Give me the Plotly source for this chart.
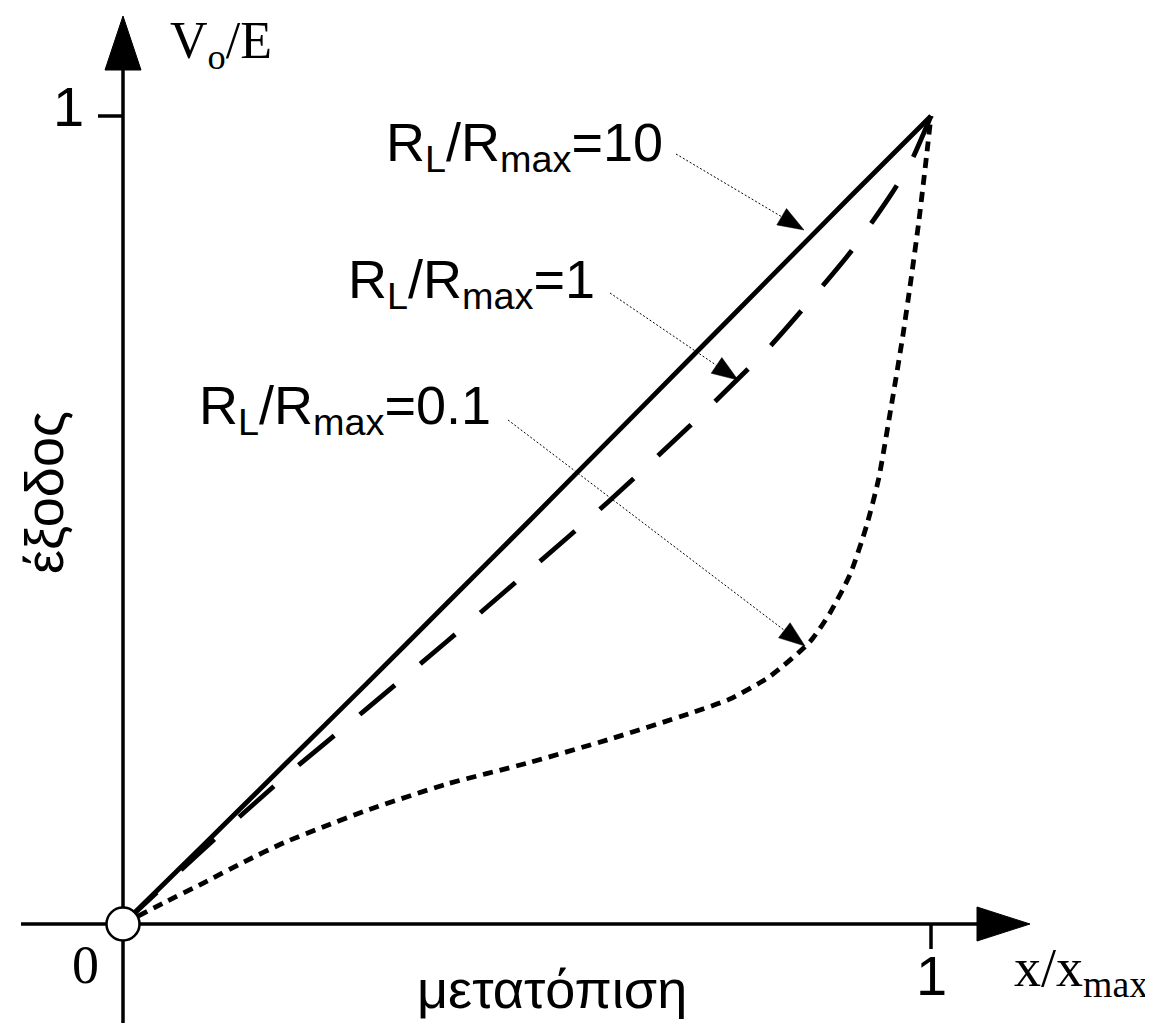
import math
import plotly.graph_objects as go

# ---------------- data ----------------
x_rl10 = [0, 0.1, 0.2, 0.3, 0.4, 0.5, 0.6, 0.7, 0.8, 0.9, 1.0]
y_rl10 = [0, 0.098, 0.197, 0.296, 0.396, 0.496, 0.597, 0.698, 0.799, 0.900, 1.0]

x_rl1 = [0, 0.1, 0.2, 0.3, 0.4, 0.5, 0.6, 0.7, 0.8, 0.9, 0.95, 0.975, 1.0]
y_rl1 = [0, 0.093, 0.182, 0.265, 0.349, 0.435, 0.522, 0.615, 0.714, 0.831, 0.902, 0.943, 1.0]

x_rl01 = [0, 0.05, 0.1, 0.15, 0.2, 0.25, 0.3, 0.4, 0.5, 0.6, 0.7, 0.75, 0.8, 0.85,
          0.875, 0.9, 0.92, 0.935, 0.95, 0.965, 0.975, 0.985, 0.995, 1.0]
y_rl01 = [0, 0.026, 0.051, 0.077, 0.101, 0.121, 0.140, 0.173, 0.199, 0.228, 0.260, 0.278,
          0.306, 0.349, 0.385, 0.433, 0.492, 0.550, 0.636, 0.727, 0.796, 0.870, 0.955, 1.0]

series_labels = ["R<sub>L</sub>/R<sub>max</sub>=10",
                 "R<sub>L</sub>/R<sub>max</sub>=1",
                 "R<sub>L</sub>/R<sub>max</sub>=0.1"]
tick_labels = ["0", "1"]
x_title = "x/x<sub>max</sub>"
y_title = "V<sub>o</sub>/E"
x_caption = "μετατόπιση"
y_caption = "έξοδος"

# ---------------- layout geometry (pixels) ----------------
W, H = 1153, 1023
X0, Y0, S = 115, 916, 808      # origin pixel and pixels per unit


def X(px):
    return (px - X0) / S


def Y(py):
    return (Y0 - py) / S


fig = go.Figure()

BLACK = "#000000"

# curves
fig.add_trace(go.Scatter(x=x_rl10, y=y_rl10, mode="lines",
                         line=dict(color=BLACK, width=4.8, shape="spline", smoothing=0.6)))
fig.add_trace(go.Scatter(x=x_rl1, y=y_rl1, mode="lines",
                         line=dict(color=BLACK, width=4.8, dash="46px,33px",
                                   shape="spline", smoothing=0.6)))
fig.add_trace(go.Scatter(x=x_rl01, y=y_rl01, mode="lines",
                         line=dict(color=BLACK, width=4.8, dash="10px,7px",
                                   shape="spline", smoothing=0.6)))

# label arrows: (shaft start px, tip px)
ARROWS = [
    ((668, 146), (796, 222)),
    ((602, 285), (730, 372)),
    ((500, 412), (797, 638)),
]
HEAD_LEN, HEAD_HALF = 26, 9.5
for (sx, sy), (tx, ty) in ARROWS:
    dx, dy = tx - sx, ty - sy
    L = math.hypot(dx, dy)
    ux, uy = dx / L, dy / L
    bx, by = tx - ux * HEAD_LEN, ty - uy * HEAD_LEN
    fig.add_trace(go.Scatter(x=[X(sx), X(bx)], y=[Y(sy), Y(by)], mode="lines",
                             line=dict(color=BLACK, width=1, dash="2px,2px")))
    p1 = (bx - uy * HEAD_HALF, by + ux * HEAD_HALF)
    p2 = (bx + uy * HEAD_HALF, by - ux * HEAD_HALF)
    fig.add_trace(go.Scatter(x=[X(tx), X(p1[0]), X(p2[0]), X(tx)],
                             y=[Y(ty), Y(p1[1]), Y(p2[1]), Y(ty)],
                             mode="lines", fill="toself", fillcolor=BLACK,
                             line=dict(color=BLACK, width=0.5)))

# origin circle
fig.add_trace(go.Scatter(x=[x_rl10[0]], y=[y_rl10[0]], mode="markers",
                         marker=dict(size=33, color="white",
                                     line=dict(color=BLACK, width=2.5))))

# axes lines, ticks and arrowheads (drawn below the traces)
shapes = [
    dict(type="line", x0=X(13), y0=0, x1=X(972), y1=0, line=dict(color=BLACK, width=3.5)),
    dict(type="line", x0=0, y0=Y(1018), x1=0, y1=Y(58), line=dict(color=BLACK, width=3.5)),
    dict(type="line", x0=X(90), y0=1, x1=0, y1=1, line=dict(color=BLACK, width=3.5)),
    dict(type="line", x0=1, y0=0, x1=1, y1=Y(941), line=dict(color=BLACK, width=3.5)),
    dict(type="path",
         path=f"M {X(1022)},{0} L {X(969)},{Y(899)} L {X(969)},{Y(933)} Z",
         fillcolor=BLACK, line=dict(color=BLACK, width=1)),
    dict(type="path",
         path=f"M {0},{Y(8)} L {X(97)},{Y(62)} L {X(133)},{Y(62)} Z",
         fillcolor=BLACK, line=dict(color=BLACK, width=1)),
]
for s in shapes:
    s["layer"] = "below"

SANS = "Liberation Sans, Arial, sans-serif"
SERIF = "Liberation Serif, Times New Roman, serif"
annotations = [
    dict(x=X(77), y=Y(957), text=tick_labels[0], font=dict(family=SERIF, size=54)),
    dict(x=1, y=Y(967), text=tick_labels[1], font=dict(family=SANS, size=56)),
    dict(x=X(60), y=Y(98), text=tick_labels[1], font=dict(family=SANS, size=56)),
    dict(x=X(160), y=Y(36), text=y_title, xanchor="left", font=dict(family=SERIF, size=52)),
    dict(x=X(1004), y=Y(963), text=x_title, xanchor="left", font=dict(family=SERIF, size=54)),
    dict(x=X(544), y=Y(981), text=x_caption, font=dict(family=SANS, size=54)),
    dict(x=X(36), y=Y(485), text=y_caption, textangle=-90, font=dict(family=SANS, size=54)),
    dict(x=X(657), y=Y(138), text=series_labels[0], xanchor="right", font=dict(family=SANS, size=54)),
    dict(x=X(589), y=Y(275), text=series_labels[1], xanchor="right", font=dict(family=SANS, size=54)),
    dict(x=X(485), y=Y(401), text=series_labels[2], xanchor="right", font=dict(family=SANS, size=54)),
]
for a in annotations:
    a.setdefault("xanchor", "center")
    a.update(xref="x", yref="y", showarrow=False, yanchor="middle")
    a["font"]["color"] = BLACK

fig.update_layout(
    width=W, height=H,
    margin=dict(l=0, r=0, t=0, b=0),
    paper_bgcolor="white", plot_bgcolor="white",
    showlegend=False,
    xaxis=dict(range=[X(0), X(W)], visible=False, fixedrange=True),
    yaxis=dict(range=[Y(H), Y(0)], visible=False, fixedrange=True),
    shapes=shapes,
    annotations=annotations,
)

fig.write_html("out.html")
